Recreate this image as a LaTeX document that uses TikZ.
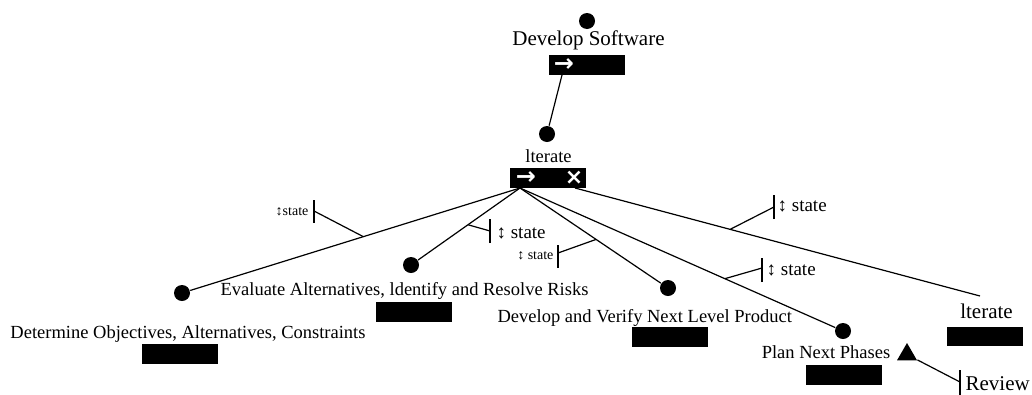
\documentclass[tikz,border=0pt]{standalone}
\usepackage{fontspec}
\setmainfont{Liberation Serif}
\newfontfamily\symfont{DejaVu Sans}
\usetikzlibrary{shapes.geometric}

\begin{document}
\begin{tikzpicture}[x=1pt, y=-1pt, line width=1.2pt]
\tikzstyle{dot}=[circle, fill=black, inner sep=0pt, minimum size=16pt]
\tikzstyle{bar}=[fill=black, inner sep=0pt, minimum width=76pt, minimum height=19.5pt]
\tikzstyle{task}=[font=\fontsize{18.5}{20}\selectfont, inner sep=0pt]
\tikzstyle{bigtask}=[font=\fontsize{21}{22}\selectfont, inner sep=0pt]
\tikzstyle{seqicon}=[text=white, font=\symfont\bfseries\fontsize{24}{24}\selectfont, inner sep=0pt]
\tikzstyle{paricon}=[text=white, font=\symfont\bfseries\fontsize{22}{22}\selectfont, inner sep=0pt]
\tikzstyle{statesm}=[font=\fontsize{14}{15}\selectfont, inner sep=0pt]
\tikzstyle{statebig}=[font=\fontsize{19}{20}\selectfont, inner sep=0pt]

\useasboundingbox (0,0) rectangle (1032,394);

% root task
\node[dot] (root) at (587,21) {};
\node[bigtask, anchor=base] (rootlbl) at (588.5,45) {Develop Software};
\node[bar] (rootbar) at (586.5,65) {};
\node[seqicon] (rootseq) at (564,65) {→};
\coordinate (rootout) at (562,75);

% iterate
\node[dot] (it) at (547,134) {};
\node[task, anchor=base] (itlbl) at (548.5,162) {lterate};
\node[bar] (itbar) at (547.5,178) {};
\node[seqicon] (itseq) at (526,178) {→};
\node[paricon] (itpar) at (574,178) {×};
\coordinate (itL) at (520,188);
\coordinate (itR) at (575,188);

% children
\node[dot] (det) at (182,293) {};
\node[task, anchor=base] (detlbl) at (188,338) {Determine Objectives, Alternatives, Constraints};
\node[bar] (detbar) at (179.5,354) {};

\node[dot] (eval) at (411,265) {};
\node[task, anchor=base west] (evallbl) at (220,295) {Evaluate Alternatives, ldentify and Resolve Risks};
\node[bar] (evalbar) at (413.5,312) {};

\node[dot] (dev) at (668,288) {};
\node[task, anchor=base west] (devlbl) at (497,322) {Develop and Verify Next Level Product};
\node[bar] (devbar) at (670,337) {};

\node[dot] (plan) at (843,331) {};
\node[task, anchor=base] (planlbl) at (826,358) {Plan Next Phases};
\node[bar] (planbar) at (844,375) {};
\node[regular polygon, regular polygon sides=3, fill=black, inner sep=0pt, minimum size=23pt] (rev) at (907,354.5) {};
\coordinate (revtick) at (960,382);
\node[bigtask, anchor=base west] (revlbl) at (965,390) {Review};

\node[bigtask, anchor=base] (it2lbl) at (986.5,318) {lterate};
\node[bar] (it2bar) at (985,336.5) {};
\coordinate (it2in) at (980,296);

% connectors
\draw (rootout) -- (it);
\draw (itL) -- coordinate[pos=0.475] (s1) (det);
\draw (itL) -- coordinate[pos=0.51] (s2) (eval);
\draw (itL) -- coordinate[pos=0.54] (s3) (dev);
\draw (itL) -- coordinate[pos=0.65] (s4) (plan);
\draw (itR) -- coordinate[pos=0.383] (s5) (it2in);
\draw (rev) -- (revtick);
\draw ([yshift=-15pt]revtick) -- ([yshift=12pt]revtick);

% state annotations
\coordinate (t1) at (314,211);
\coordinate (t2) at (490,231);
\coordinate (t3) at (558,256);
\coordinate (t4) at (762,270);
\coordinate (t5) at (774,207);
\draw (s1) -- (t1);
\draw (s2) -- (t2);
\draw (s3) -- ([yshift=3pt]t3);
\draw (s4) -- ([yshift=2pt]t4);
\draw (s5) -- (t5);
\draw ([yshift=-11.5pt]t1) -- ([yshift=11.5pt]t1);
\draw ([yshift=-12pt]t2) -- ([yshift=12pt]t2);
\draw ([yshift=-11.5pt]t3) -- ([yshift=11.5pt]t3);
\draw ([yshift=-12pt]t4) -- ([yshift=12pt]t4);
\draw ([yshift=-12pt]t5) -- ([yshift=12pt]t5);
\node[statesm, anchor=east] (st1) at (309,212) {↕state};
\node[statebig, anchor=west] (st2) at (496,233) {↕ state};
\node[statesm, anchor=east] (st3) at (554,256) {↕ state};
\node[statebig, anchor=west] (st4) at (766,270) {↕ state};
\node[statebig, anchor=west] (st5) at (777,206) {↕ state};
\end{tikzpicture}
\end{document}
